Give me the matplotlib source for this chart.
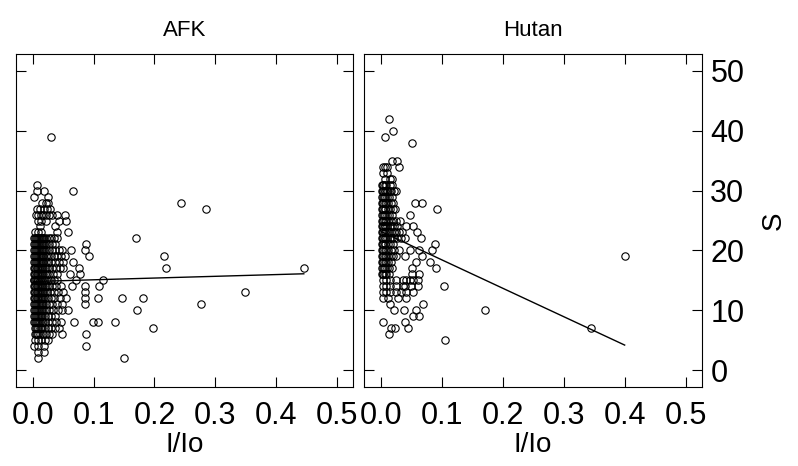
import matplotlib
matplotlib.use("Agg")
import matplotlib.pyplot as plt
import numpy as np

plt.rcParams['font.family'] = ['Liberation Sans', 'DejaVu Sans']

# species richness S per row, and the I/Io values of the plots in that row
afk_s = [39, 31, 30, 29, 28, 27, 26, 25, 24, 23, 22, 21, 20, 19, 18, 17, 16,
         15, 14, 13, 12, 11, 10, 9, 8, 7, 6, 5, 4, 3, 2]
afk_ratio = [
    [0.029],
    [0.007],
    [0.007, 0.018, 0.066],
    [0.002, 0.025],
    [0.014, 0.021, 0.025, 0.244],
    [0.007, 0.012, 0.018, 0.023, 0.028, 0.285],
    [0.005, 0.009, 0.013, 0.017, 0.021, 0.026, 0.031, 0.040, 0.053],
    [0.008, 0.013, 0.022, 0.042, 0.054],
    [0.011, 0.036],
    [0.004, 0.008, 0.013, 0.040, 0.058],
    [0.002, 0.004, 0.005, 0.007, 0.008, 0.010, 0.011, 0.013, 0.014, 0.016, 0.018, 0.022, 0.026, 0.030, 0.034, 0.039, 0.170],
    [0.002, 0.004, 0.005, 0.007, 0.008, 0.010, 0.011, 0.013, 0.014, 0.016, 0.018, 0.022, 0.026, 0.031, 0.036, 0.088],
    [0.002, 0.004, 0.005, 0.007, 0.008, 0.010, 0.011, 0.013, 0.014, 0.016, 0.018, 0.022, 0.027, 0.032, 0.037, 0.042, 0.047, 0.063, 0.085],
    [0.002, 0.004, 0.005, 0.007, 0.008, 0.010, 0.011, 0.013, 0.014, 0.016, 0.017, 0.021, 0.025, 0.029, 0.034, 0.040, 0.046, 0.052, 0.092, 0.216],
    [0.002, 0.004, 0.005, 0.007, 0.008, 0.010, 0.011, 0.013, 0.014, 0.016, 0.017, 0.021, 0.025, 0.030, 0.036, 0.043, 0.049, 0.066],
    [0.001, 0.003, 0.004, 0.006, 0.007, 0.009, 0.010, 0.012, 0.013, 0.015, 0.016, 0.019, 0.023, 0.027, 0.032, 0.038, 0.044, 0.050, 0.075, 0.219, 0.446],
    [0.001, 0.003, 0.004, 0.006, 0.007, 0.009, 0.010, 0.012, 0.013, 0.015, 0.016, 0.019, 0.023, 0.027, 0.033, 0.039, 0.061, 0.077],
    [0.001, 0.002, 0.003, 0.005, 0.006, 0.008, 0.009, 0.011, 0.012, 0.014, 0.015, 0.018, 0.021, 0.025, 0.029, 0.034, 0.039, 0.070, 0.115],
    [0.001, 0.003, 0.004, 0.006, 0.007, 0.009, 0.010, 0.012, 0.013, 0.015, 0.016, 0.019, 0.023, 0.027, 0.032, 0.038, 0.046, 0.064, 0.085, 0.108],
    [0.001, 0.003, 0.004, 0.006, 0.007, 0.009, 0.010, 0.012, 0.013, 0.015, 0.016, 0.019, 0.023, 0.028, 0.034, 0.041, 0.050, 0.085, 0.349],
    [0.001, 0.003, 0.004, 0.006, 0.007, 0.009, 0.010, 0.012, 0.013, 0.015, 0.016, 0.020, 0.024, 0.029, 0.035, 0.044, 0.054, 0.085, 0.107, 0.147, 0.181],
    [0.002, 0.004, 0.005, 0.007, 0.008, 0.010, 0.011, 0.013, 0.014, 0.017, 0.021, 0.026, 0.032, 0.040, 0.047, 0.085, 0.276],
    [0.002, 0.004, 0.005, 0.007, 0.008, 0.010, 0.011, 0.013, 0.014, 0.018, 0.022, 0.027, 0.033, 0.041, 0.048, 0.057, 0.172],
    [0.002, 0.004, 0.005, 0.007, 0.008, 0.010, 0.011, 0.013, 0.015, 0.019, 0.024, 0.030, 0.036],
    [0.002, 0.004, 0.005, 0.007, 0.008, 0.010, 0.012, 0.014, 0.016, 0.020, 0.025, 0.031, 0.038, 0.046, 0.067, 0.098, 0.107, 0.135],
    [0.003, 0.005, 0.007, 0.009, 0.011, 0.013, 0.015, 0.019, 0.024, 0.030, 0.036, 0.042, 0.197],
    [0.003, 0.005, 0.007, 0.009, 0.011, 0.016, 0.021, 0.026, 0.032, 0.047, 0.087],
    [0.003, 0.008, 0.013, 0.019, 0.025],
    [0.002, 0.008, 0.018, 0.087],
    [0.009, 0.018],
    [0.008, 0.150],
]

hutan_s = [42, 40, 39, 38, 35, 34, 33, 32, 31, 30, 29, 28, 27, 26, 25, 24, 23,
           22, 21, 20, 19, 18, 17, 16, 15, 14, 13, 12, 11, 10, 9, 8, 7, 6, 5]
hutan_ratio = [
    [0.013],
    [0.020],
    [0.007],
    [0.051],
    [0.018, 0.027],
    [0.004, 0.007, 0.010, 0.030],
    [0.004, 0.010],
    [0.007, 0.014, 0.018],
    [0.001, 0.003, 0.004, 0.006, 0.008, 0.014, 0.018],
    [0.001, 0.003, 0.004, 0.006, 0.007, 0.009, 0.010, 0.014, 0.017, 0.021, 0.025],
    [0.002, 0.004, 0.005, 0.007, 0.009, 0.013, 0.018],
    [0.001, 0.003, 0.004, 0.006, 0.008, 0.012, 0.017, 0.020, 0.055, 0.068],
    [0.001, 0.003, 0.004, 0.006, 0.007, 0.011, 0.015, 0.019, 0.023, 0.092],
    [0.002, 0.004, 0.005, 0.007, 0.009, 0.013, 0.018, 0.048],
    [0.001, 0.003, 0.004, 0.006, 0.008, 0.012, 0.016, 0.020, 0.025, 0.031],
    [0.001, 0.003, 0.004, 0.006, 0.007, 0.010, 0.014, 0.018, 0.022, 0.026, 0.041, 0.052],
    [0.001, 0.003, 0.004, 0.006, 0.007, 0.010, 0.013, 0.017, 0.021, 0.025, 0.029, 0.034, 0.059],
    [0.001, 0.003, 0.004, 0.006, 0.007, 0.010, 0.014, 0.018, 0.022, 0.027, 0.033, 0.039, 0.065],
    [0.001, 0.003, 0.004, 0.006, 0.007, 0.011, 0.015, 0.020, 0.089],
    [0.001, 0.003, 0.004, 0.006, 0.008, 0.012, 0.017, 0.022, 0.030, 0.047, 0.062, 0.084],
    [0.001, 0.003, 0.004, 0.006, 0.008, 0.012, 0.016, 0.020, 0.025, 0.040, 0.068, 0.400],
    [0.001, 0.003, 0.004, 0.006, 0.008, 0.012, 0.017, 0.058, 0.081],
    [0.002, 0.004, 0.005, 0.007, 0.009, 0.013, 0.018, 0.050, 0.090],
    [0.001, 0.003, 0.004, 0.006, 0.008, 0.013, 0.050, 0.063],
    [0.003, 0.008, 0.014, 0.025, 0.036, 0.041, 0.047, 0.052, 0.060],
    [0.003, 0.008, 0.014, 0.025, 0.036, 0.039, 0.049, 0.060, 0.103],
    [0.003, 0.008, 0.014, 0.025, 0.033, 0.041, 0.052],
    [0.003, 0.012, 0.028, 0.041],
    [0.014, 0.069],
    [0.022, 0.037, 0.058, 0.171],
    [0.053, 0.063],
    [0.003, 0.039],
    [0.017, 0.023, 0.045, 0.344],
    [0.013],
    [0.105],
]

# fitted lines: intercept, slope
afk_fit = [14.81, 2.9]
hutan_fit = [23.16, -47.4]

panels = ["AFK", "Hutan"]
x_ticks = [0.0, 0.1, 0.2, 0.3, 0.4, 0.5]
y_ticks = [0, 10, 20, 30, 40, 50]


def flatten(levels, rows):
    xs, ys = [], []
    for s, row in zip(levels, rows):
        xs += row
        ys += [s] * len(row)
    return np.array(xs), np.array(ys)


fig = plt.figure(figsize=(7.98, 4.66), dpi=100)
ax1 = fig.add_axes([16 / 798, 79 / 466, 337 / 798, 333 / 466])
ax2 = fig.add_axes([364 / 798, 79 / 466, 338 / 798, 333 / 466])

data = [flatten(afk_s, afk_ratio), flatten(hutan_s, hutan_ratio)]
fits = [afk_fit, hutan_fit]

for i, ax in enumerate([ax1, ax2]):
    x, y = data[i]
    ax.plot(x, y, 'o', mfc='none', mec='black', ms=5.3, mew=0.8)
    lx = np.array([x.min(), x.max()])
    ax.plot(lx, fits[i][0] + fits[i][1] * lx, color='black', lw=1)
    ax.set_xlim(-0.028, 0.527)
    ax.set_ylim(-2.8, 52.8)
    ax.set_xticks(x_ticks)
    ax.set_xticklabels(["%.1f" % t for t in x_ticks])
    ax.set_yticks(y_ticks)
    ax.tick_params(direction='in', length=7, width=0.8, top=True, right=True,
                   left=True, bottom=True, labelsize=22, pad=10)
    ax.tick_params(axis='y', labelleft=False, labelright=(i == 1), pad=6)
    for sp in ax.spines.values():
        sp.set_linewidth(0.8)
    ax.set_xlabel("I/Io", fontsize=20, labelpad=1)
    ax.set_title(panels[i], fontsize=16, pad=13)

ax2.yaxis.set_label_position('right')
ax2.set_ylabel("S", fontsize=20, rotation=90, labelpad=12)

fig.savefig("out.png", dpi=100)
